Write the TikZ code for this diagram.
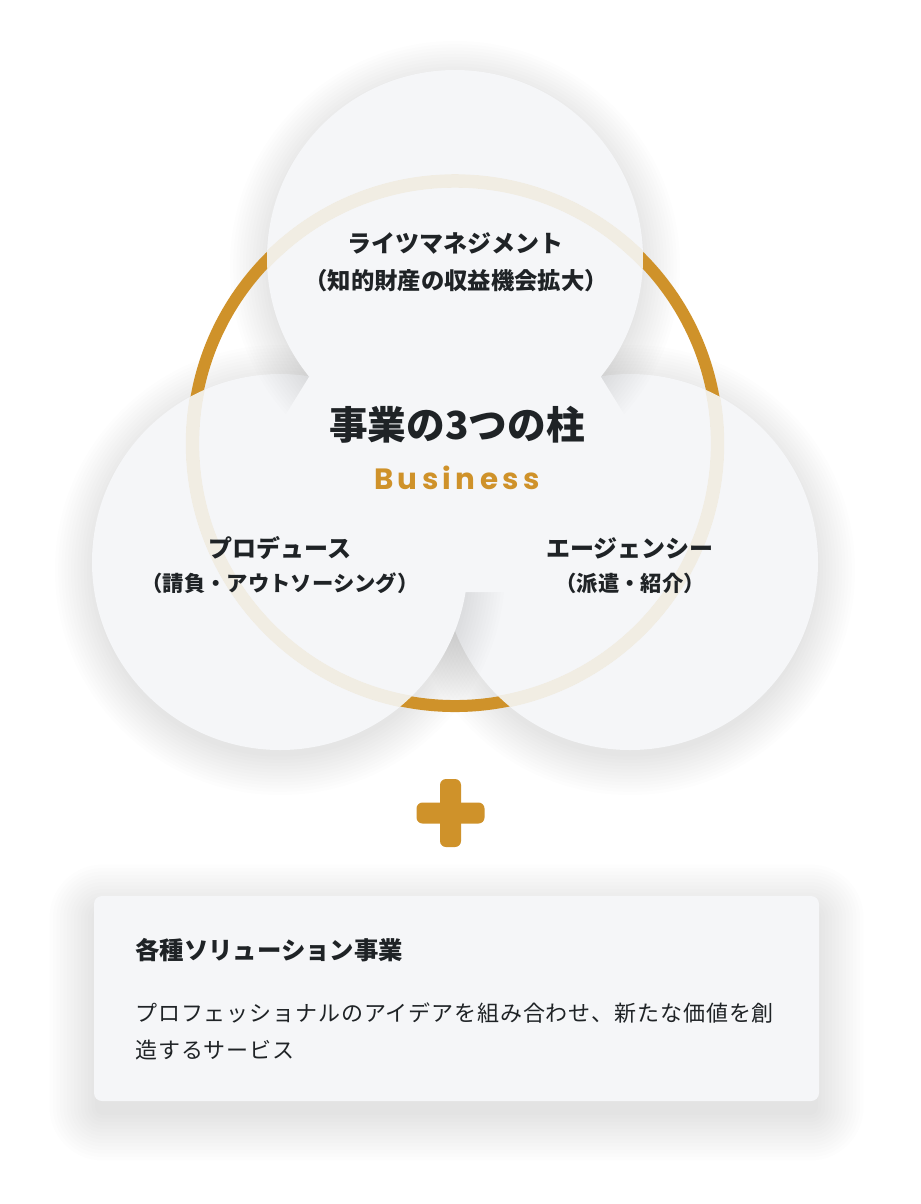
\documentclass[tikz,border=0pt]{standalone}
\usepackage{fontspec}
\setmainfont{Noto Sans CJK JP}
\newfontfamily\latinfont{Poppins}
\definecolor{gold}{HTML}{CF922A}
\definecolor{cream}{HTML}{F1EDE3}
\definecolor{ink}{HTML}{1F2326}
\definecolor{pale}{HTML}{F5F6F8}
\tikzset{
        textnode/.style={inner sep=0pt, text=ink},
        % Soft shadow layers
        shadowtone/.style={fill=black, fill opacity=0.008},
        % Pillar circles
        pillar/.style={circle, fill=pale, inner sep=0pt, minimum size=282pt},
        % Ring, gold outside the pillars and cream inside them
        ring/.style={draw=gold, line width=9pt},
        innerring/.style={draw=cream, line width=10pt},
        % Pillar texts
        pillarname/.style={textnode, font=\bfseries\fontsize{18pt}{20pt}\selectfont},
        pillarnote/.style={textnode, font=\bfseries\fontsize{16pt}{18pt}\selectfont},
        % Plus sign
        plusbar/.style={rectangle, fill=gold, rounded corners=4.5pt, inner sep=0pt},
        % Solutions box
        solutionbox/.style={rectangle, fill=pale, rounded corners=6pt, inner sep=0pt,
                minimum width=543.75pt, minimum height=153.75pt},
        boxhead/.style={textnode, font=\bfseries\fontsize{18.3pt}{20pt}\selectfont},
        boxtext/.style={textnode, font=\fontsize{16.5pt}{18pt}\selectfont\addfontfeature{LetterSpace=4}}
}
\newcommand\pillarshadow[2]{%
    \foreach \k in {0,...,12}{\fill[shadowtone] (#1,#2+8) circle[radius=140pt+2.4pt*\k];}}
\begin{document}
\begin{tikzpicture}[x=0.75pt, y=-0.75pt]
    \fill[white] (0,0) rectangle (921,1204);
    \useasboundingbox (0,0) rectangle (921,1204);
    % the three pillars
    \pillarshadow{630}{562}
    \node[pillar] (rights) at (630,562) {};
    \pillarshadow{280}{562}
    \node[pillar] (lefts) at (280,562) {};
    \pillarshadow{455}{258}
    \node[pillar] (tops) at (455,258) {};
    % cover the inner overlaps
    \fill[pale] (309,377) -- (601,377) -- (640,440) -- (640,592)
        -- (270,592) -- (270,440) -- cycle;
    % ring
    \draw[ring] (455,443.5) circle[radius=196.9pt];
    \foreach \p in {rights,lefts,tops}{
        \begin{scope}
            \clip (\p.center) circle[radius=141pt];
            \draw[innerring] (455,443.5) circle[radius=196.9pt];
        \end{scope}
    }
    % labels
    \node[pillarname] (topname) at (455,243) {ライツマネジメント};
    \node[pillarnote, font=\bfseries\fontsize{17.5pt}{18pt}\selectfont] (topnote) at (456,281) {（知的財産の収益機会拡大）};
    \node[textnode, font=\bfseries\fontsize{29pt}{32pt}\selectfont] (title) at (457,425) {事業の3つの柱};
    \node[textnode, text=gold, font=\latinfont\bfseries\fontsize{22pt}{24pt}\selectfont\addfontfeature{LetterSpace=15}] (business) at (457,478) {Business};
    \node[pillarname] (leftname) at (280,548) {プロデュース};
    \node[pillarnote] (leftnote) at (280,583) {（請負・アウトソーシング）};
    \node[pillarname] (rightname) at (630,548) {エージェンシー};
    \node[pillarnote] (rightnote) at (630,583) {（派遣・紹介）};
    % plus
    \node[plusbar, minimum width=51pt, minimum height=15.75pt] (plusx) at (450.5,813) {};
    \node[plusbar, minimum width=15.75pt, minimum height=51pt] (plusy) at (450.5,813) {};
    % other solutions
    \foreach \k in {0,...,13}{
        \fill[shadowtone, fill opacity=0.006, rounded corners=6pt+2.6pt*\k]
            (95-3.5*\k,910-3.5*\k) rectangle (818+3.5*\k,1115+3.5*\k);
    }
    \node[solutionbox] (solution) at (456.5,998.5) {};
    \node[boxhead, anchor=west] (solhead) at (135,950) {各種ソリューション事業};
    \node[boxtext, anchor=west] (soltexta) at (135,1013) {プロフェッショナルのアイデアを組み合わせ、新たな価値を創};
    \node[boxtext, anchor=west] (soltextb) at (135,1050) {造するサービス};
\end{tikzpicture}
\end{document}
